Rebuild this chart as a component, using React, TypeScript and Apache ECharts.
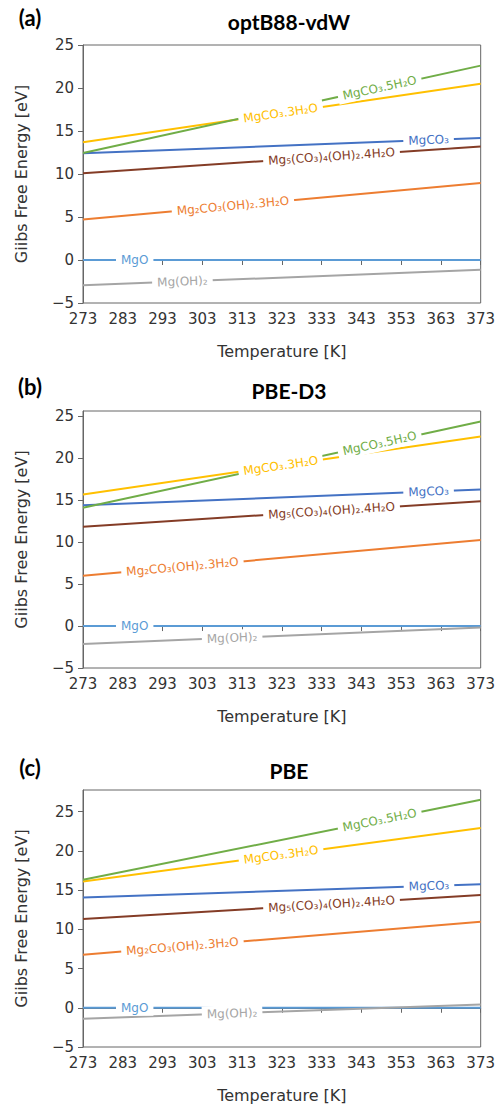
import React, { useEffect, useRef } from "react";
import * as echarts from "echarts";

// ---- data ----
const temps = [273, 373];
const xTicks = [273, 283, 293, 303, 313, 323, 333, 343, 353, 363, 373];
const yTicks = [-5, 0, 5, 10, 15, 20, 25];
const panelTitles = ["optB88-vdW", "PBE-D3", "PBE"];
const panelTags = ["(a)", "(b)", "(c)"];
const species = [
  "MgO",
  "Mg(OH)₂",
  "Mg₂CO₃(OH)₂.3H₂O",
  "Mg₅(CO₃)₄(OH)₂.4H₂O",
  "MgCO₃",
  "MgCO₃.3H₂O",
  "MgCO₃.5H₂O",
];
// Gibbs free energy [eV] at 273 K and 373 K, per species
const optB88 = [
  [0, 0],
  [-2.95, -1.13],
  [4.7, 8.95],
  [10.1, 13.2],
  [12.4, 14.2],
  [13.7, 20.5],
  [12.45, 22.6],
];
const pbeD3 = [
  [0, 0],
  [-2.14, -0.17],
  [6.0, 10.27],
  [11.86, 14.9],
  [14.4, 16.3],
  [15.7, 22.6],
  [14.1, 24.4],
];
const pbe = [
  [0, 0],
  [-1.4, 0.42],
  [6.77, 10.97],
  [11.3, 14.36],
  [14.05, 15.75],
  [16.1, 22.9],
  [16.3, 26.5],
];
// inline label positions (temperature) per species
const labelTa = [286, 298, 310.7, 335.5, 359.9, 322.7, 347.6];
const labelTb = [286, 310.5, 298, 335.5, 359.9, 322.7, 347.6];
const labelTc = [286, 310.5, 298, 335.5, 360, 322.8, 347.6];
const yMax = [25, 25.65, 27.75];

const panels = [optB88, pbeD3, pbe];
const labelTs = [labelTa, labelTb, labelTc];
const colors = ["#5B9BD5", "#A5A5A5", "#ED7D31", "#843C26", "#4472C4", "#FFC000", "#70AD47"];

const grids = [
  { top: 45, height: 258 },
  { top: 411, height: 257 },
  { top: 790, height: 257 },
];
const tagY = [17, 386, 767];
const titleY = [16, 385, 765];

const TICK_FONT = "DejaVu Sans";

export default function App() {
  const ref = useRef<HTMLDivElement>(null);
  useEffect(() => {
    document.body.style.margin = "0";
    const chart = echarts.init(ref.current!, undefined, { renderer: "svg" });
    const fmt = (v: number) => (v < 0 ? "\u2212" + Math.abs(v) : String(v));
    const option: any = {
      animation: false,
      backgroundColor: "#fff",
      grid: grids.map((g) => ({
        left: 83,
        right: 17,
        top: g.top,
        height: g.height,
        show: true,
        borderColor: "#666",
        borderWidth: 1,
        backgroundColor: "transparent",
      })),
      xAxis: grids.map((_, i) => ({
        type: "value",
        gridIndex: i,
        min: 273,
        max: 373,
        name: "Temperature [K]",
        nameLocation: "middle",
        nameGap: 40,
        nameTextStyle: { fontFamily: TICK_FONT, fontSize: 16, color: "#333" },
        axisLine: { show: true, lineStyle: { color: "#666", width: 1 } },
        axisTick: { show: true, length: 5, customValues: xTicks, lineStyle: { color: "#666" } },
        axisLabel: {
          customValues: xTicks,
          fontFamily: TICK_FONT,
          fontSize: 15,
          color: "#333",
          margin: 8,
        },
        splitLine: { show: false },
      })),
      yAxis: grids.map((_, i) => ({
        type: "value",
        gridIndex: i,
        min: -5,
        max: yMax[i],
        name: "Giibs Free Energy [eV]",
        nameLocation: "middle",
        nameGap: 54,
        nameTextStyle: { fontFamily: TICK_FONT, fontSize: 16, color: "#333" },
        axisLine: { show: true, lineStyle: { color: "#666", width: 1 } },
        axisTick: { show: true, length: 5, customValues: yTicks, lineStyle: { color: "#666" } },
        axisLabel: {
          customValues: yTicks,
          fontFamily: TICK_FONT,
          fontSize: 15,
          color: "#333",
          margin: 9,
          formatter: fmt,
        },
        splitLine: { show: false },
      })),
      title: [
        ...panelTitles.map((t, i) => ({
          text: t,
          left: 284,
          top: titleY[i],
          textAlign: "center",
          textVerticalAlign: "middle",
          textStyle: { fontFamily: "Lato", fontWeight: "bold", fontSize: 21, color: "#000" },
        })),
      ],
      series: panels.flatMap((vals, p) =>
        vals.map((v, s) => ({
          type: "line",
          name: species[s] + " " + p,
          xAxisIndex: p,
          yAxisIndex: p,
          data: temps.map((t, k) => [t, v[k]]),
          showSymbol: false,
          symbol: "none",
          lineStyle: { color: colors[s], width: 2 },
          z: 2 + s,
        }))
      ),
    };
    chart.setOption(option);

    const graphics: any[] = [];
    panelTags.forEach((t, i) => {
      graphics.push({
        type: "text",
        x: 30,
        y: tagY[i],
        z: 200,
        style: {
          text: t,
          fill: "#000",
          font: 'bold 22px "Lato"',
          align: "center",
          verticalAlign: "middle",
        },
      });
    });
    panels.forEach((vals, p) => {
      vals.forEach((v, s) => {
        const p0 = chart.convertToPixel({ gridIndex: p }, [temps[0], v[0]]) as number[];
        const p1 = chart.convertToPixel({ gridIndex: p }, [temps[1], v[1]]) as number[];
        const f = (labelTs[p][s] - temps[0]) / (temps[1] - temps[0]);
        const x = p0[0] + f * (p1[0] - p0[0]);
        const y = p0[1] + f * (p1[1] - p0[1]);
        const ang = Math.atan2(-(p1[1] - p0[1]), p1[0] - p0[0]);
        graphics.push({
          type: "text",
          x,
          y,
          rotation: ang,
          z: 100,
          style: {
            text: species[s],
            fill: colors[s],
            font: '12px "DejaVu Sans"',
            align: "center",
            verticalAlign: "middle",
            backgroundColor: "#fff",
            padding: [2, 5],
          },
        });
      });
    });
    chart.setOption({ graphic: graphics });

    return () => chart.dispose();
  }, []);
  return <div ref={ref} style={{ width: 498, height: 1112 }} />;
}
